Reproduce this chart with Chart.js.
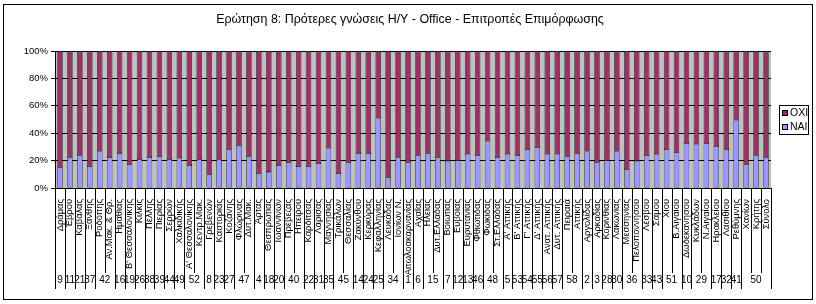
<!DOCTYPE html>
<html><head><meta charset="utf-8">
<script src="https://cdn.jsdelivr.net/npm/chart.js@4/dist/chart.umd.min.js"></script>
<style>html,body{margin:0;padding:0;background:#fff}#wrap{width:816px;height:304px;position:relative}</style>
</head><body><div id="wrap"><canvas id="c" width="816" height="304"></canvas></div>
<script>
const chartTitle = 'Ερώτηση 8: Πρότερες γνώσεις Η/Υ - Office - Επιτροπές Επιμόρφωσης';
const categories = ["Δράμας","Έβρου","Καβάλας","Ξάνθης","Ροδόπης","Αν.Μακ. & Θρ.","Ημαθίας","Β' Θεσσαλονίκης","Κιλκίς","Πέλλης","Πιερίας","Σερρών","Χαλκιδικής","Α' Θεσσαλονίκης","Κεντρ.Μακ.","Γρεβενών","Καστοριάς","Κοζάνης","Φλώρινας","Δυτ.Μακ.","Άρτας","Θεσπρωτίας","Ιωαννίνων","Πρέβεζας","Ηπείρου","Καρδίτσας","Λάρισας","Μαγνησίας","Τρικάλων","Θεσσαλίας","Ζακύνθου","Κερκύρας","Κεφαλληνίας","Λευκάδας","Ιονίων Ν.","Αιτωλοακαρνανίας","Αχαΐας","Ηλείας","Δυτ.Ελλάδας","Βοιωτίας","Ευβοίας","Ευρυτανίας","Φθιώτιδας","Φωκίδας","Στ.Ελλάδας","Α' Αττικής","Β' Αττικής","Γ' Αττικής","Δ' Αττικής","Ανατ. Αττικής","Δυτ. Αττικής","Πειραιά","Αττικής","Αργολίδας","Αρκαδίας","Κορινθίας","Λακωνίας","Μεσσηνίας","Πελοποννήσου","Λέσβου","Σάμου","Χίου","Β.Αιγαίου","Δωδεκανήσου","Κυκλάδων","Ν.Αιγαίου","Ηρακλείου","Λασιθίου","Ρεθύμνης","Χανίων","Κρήτης","Σύνολο"];
const codes = [9,11,21,37,42,null,16,19,26,38,39,44,49,52,null,8,23,27,47,null,4,18,20,40,null,22,31,35,45,null,14,24,25,34,null,1,6,15,null,7,12,13,46,48,null,5,53,54,55,56,57,58,null,2,3,28,30,36,null,33,43,51,null,10,29,null,17,32,41,50,null,null];
const naiPct = [15.3,22.6,24.0,16.0,26.9,22.6,25.5,17.5,21.1,22.6,
23.3,21.1,21.8,16.7,21.1,10.2,21.1,28.4,31.3,23.3,
10.9,11.7,16.7,18.9,16.0,16.0,18.2,29.1,10.9,18.9,
25.5,25.5,51.0,8.0,22.6,18.9,24.0,25.5,22.6,19.7,
20.4,24.8,24.0,34.2,22.6,24.8,24.0,28.4,29.9,24.8,
24.8,23.3,25.5,26.9,18.9,20.4,26.9,13.8,19.7,24.0,
24.8,28.4,26.2,32.8,32.0,32.8,30.6,28.4,49.5,17.5,
24.0,22.6];
const oxiPct = [84.7,77.4,76.0,84.0,73.1,77.4,74.5,82.5,78.9,77.4,
76.7,78.9,78.2,83.3,78.9,89.8,78.9,71.6,68.7,76.7,
89.1,88.3,83.3,81.1,84.0,84.0,81.8,70.9,89.1,81.1,
74.5,74.5,49.0,92.0,77.4,81.1,76.0,74.5,77.4,80.3,
79.6,75.2,76.0,65.8,77.4,75.2,76.0,71.6,70.1,75.2,
75.2,76.7,74.5,73.1,81.1,79.6,73.1,86.2,80.3,76.0,
75.2,71.6,73.8,67.2,68.0,67.2,69.4,71.6,50.5,82.5,
76.0,77.4];
const seriesNames = ['ΝΑΙ','ΟΧΙ'];
const seriesColors = ['#9999FF','#993366'];

const FONT = '"Liberation Sans", Arial, sans-serif';
const mctx = document.createElement('canvas').getContext('2d');
function fitSize(text, target) {
  mctx.font = '10px ' + FONT;
  return Math.round(100 * 10 * target / mctx.measureText(text).width) / 100;
}
const titleSize = fitSize(chartTitle, 388);
const labelSize = fitSize("Β' Θεσσαλονίκης", 70);

const overlay = {
  id: 'overlay',
  beforeDraw(chart) {
    const ctx = chart.ctx, ca = chart.chartArea;
    ctx.save();
    ctx.fillStyle = '#fff';
    ctx.fillRect(0, 0, chart.width, chart.height);
    ctx.fillStyle = '#C0C0C0';
    ctx.fillRect(ca.left, ca.top, ca.right - ca.left, ca.bottom - ca.top);
    ctx.restore();
  },
  afterDraw(chart) {
    const ctx = chart.ctx, ca = chart.chartArea, xs = chart.scales.x;
    ctx.save();
    ctx.strokeStyle = '#000'; ctx.lineWidth = 1;
    ctx.strokeRect(3.5, 4.5, 809, 295);
    ctx.fillStyle = '#000';
    ctx.font = titleSize + 'px ' + FONT;
    ctx.textAlign = 'center'; ctx.textBaseline = 'middle';
    ctx.fillText(chartTitle, 410, 20);
    const n = categories.length;
    const w = xs.getPixelForValue(1) - xs.getPixelForValue(0);
    const x0 = xs.getPixelForValue(0) - w / 2;
    const yTop = ca.bottom, yMid = 273, yBot = 289;
    ctx.beginPath();
    for (let i = 0; i <= n; i++) {
      const px = Math.round(x0 + i * w) + 0.5;
      const full = (i === 0 || i === n || codes[i] !== null);
      ctx.moveTo(px, yTop);
      ctx.lineTo(px, full ? yBot : yMid);
    }
    ctx.stroke();
    ctx.font = '10px ' + FONT;
    ctx.textAlign = 'center'; ctx.textBaseline = 'middle';
    for (let i = 0; i < n; i++) {
      if (codes[i] === null) continue;
      let j = i;
      while (j + 1 < n && codes[j + 1] === null) j++;
      const cx = (xs.getPixelForValue(i) + xs.getPixelForValue(j)) / 2;
      ctx.fillText(String(codes[i]), cx, 280);
    }
    ctx.strokeRect(779.5, 105.5, 29, 29);
    const items = [[seriesNames[1], seriesColors[1], 113], [seriesNames[0], seriesColors[0], 127]];
    ctx.textAlign = 'left'; ctx.font = '10.5px ' + FONT;
    for (const [lab, col, y] of items) {
      ctx.fillStyle = col;
      ctx.fillRect(782, y - 3, 6, 6);
      ctx.strokeRect(782.5, y - 2.5, 5, 5);
      ctx.fillStyle = '#000';
      ctx.fillText(lab, 790, y + 0.5);
    }
    ctx.restore();
  }
};

new Chart(document.getElementById('c'), {
  type: 'bar',
  data: {
    labels: categories,
    datasets: [
      { label: seriesNames[0], data: naiPct, backgroundColor: seriesColors[0], borderColor: '#000', borderWidth: 0.6, borderSkipped: false, barPercentage: 0.55, categoryPercentage: 1 },
      { label: seriesNames[1], data: oxiPct, backgroundColor: seriesColors[1], borderColor: '#000', borderWidth: 0.6, borderSkipped: false, barPercentage: 0.55, categoryPercentage: 1 }
    ]
  },
  options: {
    responsive: false,
    animation: false,
    devicePixelRatio: 1,
    layout: { padding: { left: 0, right: 45, top: 51, bottom: 0 } },
    plugins: { legend: { display: false }, title: { display: false }, tooltip: { enabled: false } },
    scales: {
      x: {
        stacked: true,
        grid: { display: false },
        border: { display: true, color: '#000', width: 1 },
        ticks: { autoSkip: false, maxRotation: 90, minRotation: 90, padding: 3, color: '#000', font: { size: labelSize, family: FONT } },
        afterFit(s) { s.height = 304 - 188; }
      },
      y: {
        stacked: true, min: 0, max: 100,
        grid: { color: '#000', lineWidth: 1, tickLength: 4, drawTicks: true },
        border: { display: true, color: '#000', width: 1 },
        ticks: { stepSize: 10, padding: 3, color: '#000', font: { size: 9.5, family: FONT }, callback: v => v + '%' },
        afterFit(s) { s.width = 55; }
      }
    }
  },
  plugins: [overlay]
});
</script>
</body></html>
